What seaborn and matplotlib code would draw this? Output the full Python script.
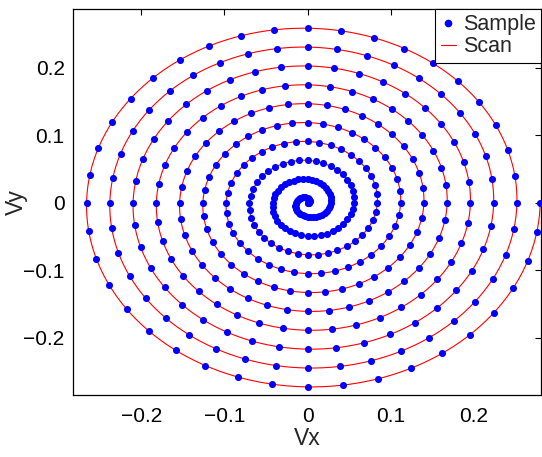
import numpy as np
import pandas as pd
import seaborn as sns
import matplotlib.pyplot as plt
from matplotlib.lines import Line2D

# Spiral: rings cross the +x axis every 0.028,
# 10 turns ending at (0.28, 0), 40 samples per turn (10 per quarter)
pitch = 0.028
n_turns = 10
samples_per_turn = 40
scan_steps_per_sample = 8

x_ticks = [-0.2, -0.1, 0, 0.1, 0.2]
x_tick_labels = ['\u22120.2', '\u22120.1', '0', '0.1', '0.2']
y_ticks = [-0.2, -0.1, 0, 0.1, 0.2]
y_tick_labels = ['\u22120.2', '\u22120.1', '0', '0.1', '0.2']

# Build sample points and the finer scan curve
theta = np.arange(n_turns * samples_per_turn + 1) * 2 * np.pi / samples_per_turn
r = pitch * theta / (2 * np.pi)
df_samples = pd.DataFrame({'Vx': r * np.cos(theta), 'Vy': r * np.sin(theta)})

theta_scan = np.linspace(0, theta[-1], len(theta) * scan_steps_per_sample)
r_scan = pitch * theta_scan / (2 * np.pi)
df_scan = pd.DataFrame({'Vx': r_scan * np.cos(theta_scan), 'Vy': r_scan * np.sin(theta_scan)})

sns.set_style('white')
plt.rcParams['font.family'] = ['Liberation Sans', 'DejaVu Sans']
plt.rcParams['font.size'] = 15

fig = plt.figure(figsize=(5.42, 4.57), dpi=100)
ax = fig.add_axes([0.1347, 0.1357, 0.8643, 0.8446])

sns.lineplot(data=df_scan, x='Vx', y='Vy', sort=False, estimator=None,
             color='red', linewidth=0.8, ax=ax)
sns.scatterplot(data=df_samples, x='Vx', y='Vy', color='blue', s=26,
                linewidth=0, ax=ax, zorder=3)

ax.set_xlim(-0.2823, 0.2815)
ax.set_ylim(-0.285, 0.2875)
ax.set_xticks(x_ticks)
ax.set_xticklabels(x_tick_labels)
ax.set_yticks(y_ticks)
ax.set_yticklabels(y_tick_labels)
ax.tick_params(direction='in', length=4, width=0.8, top=True, right=True,
               labelsize=15, colors='black')
ax.tick_params(axis='x', pad=9)
ax.tick_params(axis='y', pad=6)
for spine in ax.spines.values():
    spine.set_color('black')
    spine.set_linewidth(0.9)
ax.set_xlabel('Vx', fontsize=16.5)
ax.set_ylabel('Vy', fontsize=16.5)
ax.xaxis.set_label_coords(0.5, -0.083)
ax.yaxis.set_label_coords(-0.097, 0.5)

handles = [Line2D([], [], linestyle='none', marker='o', color='blue', markersize=4.5),
           Line2D([], [], color='red', linewidth=0.8)]
leg = ax.legend(handles, ['Sample', 'Scan'], loc='upper right', borderaxespad=0,
                fontsize=15.5, frameon=True, fancybox=False, handlelength=0.7,
                handletextpad=0.35, borderpad=0.25, labelspacing=0.05)
leg.get_frame().set_edgecolor('black')
leg.get_frame().set_linewidth(0.8)
leg.get_frame().set_alpha(1)

fig.savefig('out.png', dpi=100)
